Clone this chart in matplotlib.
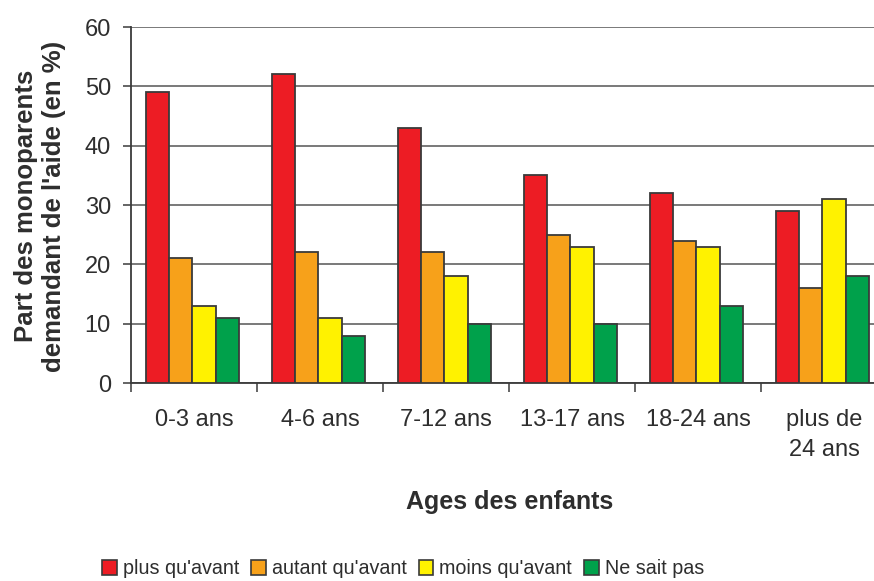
import matplotlib
matplotlib.use("Agg")
import matplotlib.pyplot as plt
import numpy as np
from matplotlib.patches import Patch

plt.rcParams['font.family'] = ['Liberation Sans', 'DejaVu Sans']

categories = ["0-3 ans", "4-6 ans", "7-12 ans", "13-17 ans", "18-24 ans", "plus de\n24 ans"]
series_names = ["plus qu'avant", "autant qu'avant", "moins qu'avant", "Ne sait pas"]
plus = [49, 52, 43, 35, 32, 29]
autant = [21, 22, 22, 25, 24, 16]
moins = [13, 11, 18, 23, 23, 31]
nsp = [11, 8, 10, 10, 13, 18]
colors = ["#ED1C24", "#F7A11A", "#FFF200", "#00A14B"]

values = [plus, autant, moins, nsp]
txt = "#2e2e2e"
edge = "#3a3a3a"

fig = plt.figure(figsize=(8.74, 5.81), dpi=100)
ax = fig.add_axes([131/874, 198/581, 756/874, 356/581])

x = np.arange(len(categories))
bw = 0.183
for i, (vals, c) in enumerate(zip(values, colors)):
    ax.bar(x + (i - 1.5) * bw - 0.012, vals, width=bw, color=c, edgecolor=edge,
           linewidth=1.3, zorder=3, label=series_names[i])

ax.set_xlim(-0.5, 5.5)
ax.set_ylim(0, 60)
ax.set_yticks(range(0, 61, 10))
ax.yaxis.grid(True, color="#555555", linewidth=1.1, zorder=0)
ax.set_axisbelow(True)

ax.set_xticks(np.arange(-0.5, 5.6, 1.0))
ax.set_xticklabels([])
ax.set_xticks(x, minor=True)
ax.set_xticklabels(categories, minor=True, fontsize=17, color=txt, linespacing=1.45, va='top')
ax.tick_params(axis='x', which='minor', length=0, pad=19)
ax.tick_params(axis='x', which='major', length=6.5, width=1.1, color=edge, direction='out')
ax.tick_params(axis='y', length=6, width=1.1, color=edge, labelsize=17, labelcolor=txt, pad=8.5)

for s in ['top', 'right']:
    ax.spines[s].set_visible(False)
for s in ['left', 'bottom']:
    ax.spines[s].set_color(edge)
    ax.spines[s].set_linewidth(1.3)

fig.text(40/874, 1 - 206/581, "Part des monoparents\ndemandant de l'aide (en %)", rotation=90,
         ha='center', va='center', fontsize=18.5, fontweight='bold', color=txt, linespacing=1.2)
fig.text(510/874, 1 - 502/581, "Ages des enfants", ha='center', va='center',
         fontsize=18, fontweight='bold', color=txt)

handles = [Patch(facecolor=c, edgecolor=edge, linewidth=1.2) for c in colors]
fig.legend(handles, series_names, loc='center', bbox_to_anchor=(403/874, 1 - 569/581),
           ncol=4, frameon=False, fontsize=14.2, handlelength=0.75, handleheight=0.75,
           handletextpad=0.3, columnspacing=0.6, labelcolor=txt, borderpad=0)

fig.savefig("out.png", dpi=100)
